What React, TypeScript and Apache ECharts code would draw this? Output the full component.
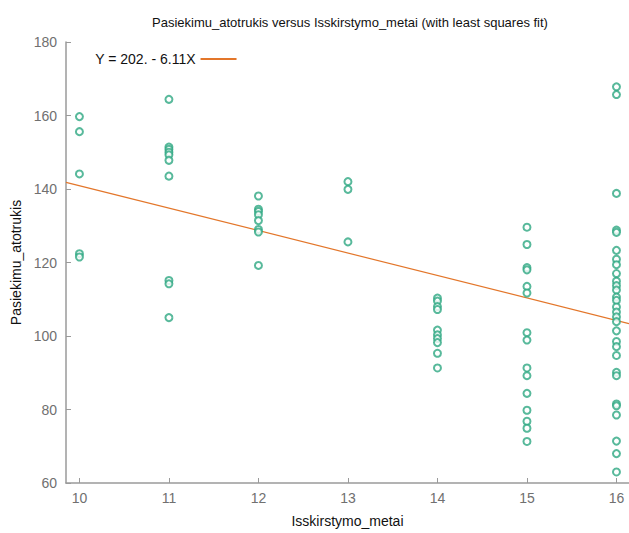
import React, { useEffect, useRef } from "react";
import * as echarts from "echarts";

const xValues10 = [10, 10, 10, 10, 10];
const yValues10 = [159.7, 155.6, 144.1, 122.4, 121.5];

const xValues11 = [11, 11, 11, 11, 11, 11, 11, 11, 11, 11];
const yValues11 = [164.4, 151.4, 150.8, 150.0, 149.3, 147.8, 143.5, 115.1, 114.2, 105.0];

const xValues12 = [12, 12, 12, 12, 12, 12, 12, 12];
const yValues12 = [138.1, 134.5, 133.9, 133.0, 131.4, 129.0, 128.3, 119.2];

const xValues13 = [13, 13, 13];
const yValues13 = [142.0, 139.9, 125.6];

const xValues14 = [14, 14, 14, 14, 14, 14, 14, 14, 14, 14];
const yValues14 = [110.3, 109.5, 108.0, 107.2, 101.6, 100.3, 99.3, 98.2, 95.3, 91.3];

const xValues15 = [15, 15, 15, 15, 15, 15, 15, 15, 15, 15, 15, 15, 15, 15, 15];
const yValues15 = [129.6, 124.9, 118.6, 118.0, 113.5, 111.7, 100.9, 98.9, 91.3, 89.2, 84.4, 79.8, 76.8, 74.9, 71.3];

const xValues16 = [16, 16, 16, 16, 16, 16, 16, 16, 16, 16, 16, 16, 16, 16, 16, 16, 16, 16, 16, 16, 16, 16, 16, 16, 16, 16, 16, 16, 16, 16];
const yValues16 = [
  167.8, 165.7, 138.8, 128.8, 128.2, 123.3, 120.9, 119.4, 117.0, 114.9,
  113.7, 112.5, 110.6, 109.7, 107.9, 106.5, 105.2, 103.9, 101.4, 98.5,
  97.1, 94.7, 90.1, 89.2, 81.5, 81.0, 78.5, 71.4, 68.0, 63.0,
];

const xTickValues = [10, 11, 12, 13, 14, 15, 16];

const fitIntercept = 202;
const fitSlope = -6.11;
const fitLabel = "Y = 202. - 6.11X";

const xMin = 9.85;
const xMax = 16.14;
const yMin = 60;
const yMax = 180;

const titleText = "Pasiekimu_atotrukis versus Isskirstymo_metai (with least squares fit)";
const xName = "Isskirstymo_metai";
const yName = "Pasiekimu_atotrukis";

function buildPoints(): number[][] {
  const groups: [number[], number[]][] = [
    [xValues10, yValues10],
    [xValues11, yValues11],
    [xValues12, yValues12],
    [xValues13, yValues13],
    [xValues14, yValues14],
    [xValues15, yValues15],
    [xValues16, yValues16],
  ];
  const pts: number[][] = [];
  groups.forEach(([xs, ys]) => {
    xs.forEach((x, i) => pts.push([x, ys[i]]));
  });
  return pts;
}

export default function App() {
  const ref = useRef<HTMLDivElement>(null);
  useEffect(() => {
    if (!ref.current) return;
    const chart = echarts.init(ref.current, null, { renderer: "svg" });
    const font = "'Liberation Sans', Arial, Helvetica, sans-serif";
    const axisColor = "#9a9a9a";
    const labelColor = "#707070";
    const pointColor = "#2ea882";
    const lineColor = "#e3762a";
    const fitData = [
      [xMin, fitIntercept + fitSlope * xMin],
      [xMax, fitIntercept + fitSlope * xMax],
    ];
    chart.setOption({
      animation: false,
      backgroundColor: "#ffffff",
      title: {
        text: titleText,
        left: 345,
        textAlign: "center",
        top: 11,
        textStyle: { fontFamily: font, fontSize: 13, fontWeight: "normal", color: "#111" },
      },
      legend: {
        left: 90,
        top: 47,
        align: "right",
        itemWidth: 36,
        itemHeight: 2,
        itemGap: 8,
        data: [{ name: fitLabel, icon: "rect" }],
        textStyle: { fontFamily: font, fontSize: 14, color: "#111" },
      },
      grid: { left: 66, right: 0, top: 42, bottom: 45, containLabel: false },
      xAxis: {
        type: "value",
        min: xMin,
        max: xMax,
        name: xName,
        nameLocation: "middle",
        nameGap: 31,
        nameTextStyle: { fontFamily: font, fontSize: 14, color: "#111", verticalAlign: "top" },
        axisLine: { show: true, lineStyle: { color: axisColor, width: 1.5 } },
        axisTick: { show: true, inside: true, length: 5, lineStyle: { color: axisColor }, customValues: xTickValues },
        axisLabel: {
          fontFamily: font,
          fontSize: 14,
          color: labelColor,
          margin: 8,
          customValues: xTickValues,
        },
        splitLine: { show: false },
      },
      yAxis: {
        type: "value",
        min: yMin,
        max: yMax,
        interval: 20,
        name: yName,
        nameLocation: "middle",
        nameGap: 42,
        nameTextStyle: { fontFamily: font, fontSize: 14, color: "#111" },
        axisLine: { show: true, lineStyle: { color: axisColor, width: 1.5 } },
        axisTick: { show: true, inside: true, length: 5, lineStyle: { color: axisColor } },
        axisLabel: { fontFamily: font, fontSize: 14, color: labelColor, margin: 9 },
        splitLine: { show: false },
      },
      series: [
        {
          type: "scatter",
          name: "data",
          data: buildPoints(),
          symbol: "emptyCircle",
          symbolSize: 7,
          itemStyle: { color: pointColor, borderColor: pointColor, borderWidth: 1.1 },
          z: 3,
        },
        {
          type: "line",
          name: fitLabel,
          data: fitData,
          showSymbol: false,
          symbol: "none",
          lineStyle: { color: lineColor, width: 1.2 },
          itemStyle: { color: lineColor },
          z: 2,
        },
      ],
    });
    return () => chart.dispose();
  }, []);
  return (
    <div
      ref={ref}
      style={{ position: "absolute", left: 0, top: 0, width: 629, height: 533 }}
    />
  );
}
